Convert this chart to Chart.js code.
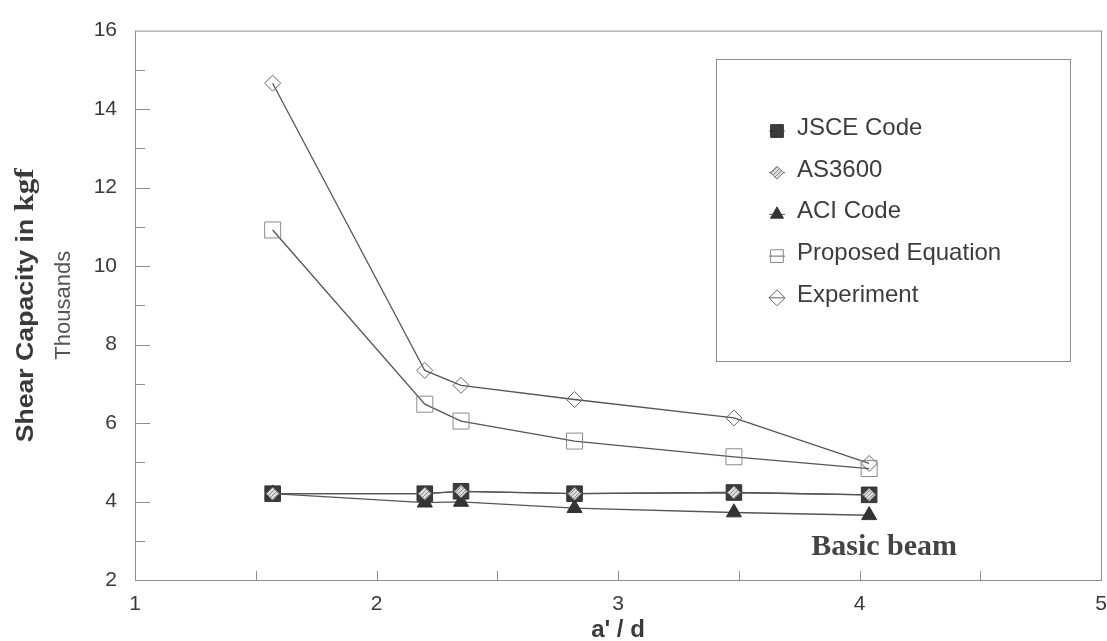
<!DOCTYPE html>
<html>
<head>
<meta charset="utf-8">
<title>Shear Capacity vs a'/d</title>
<script src="https://cdn.jsdelivr.net/npm/chart.js@4.4.1/dist/chart.umd.min.js"></script>
<style>
    html, body { margin: 0; padding: 0; background: #fff; }
    #wrap { position: relative; width: 1107px; height: 641px; }
</style>
</head>
<body>
<div id="wrap"><canvas id="shearChart" width="1107" height="641"></canvas></div>
<script>
// a'/d values of the tested beams
const ratioAD = [1.57, 2.2, 2.35, 2.82, 3.48, 4.04];

// Shear capacity, thousands of kgf
const jsceCode = [4.2, 4.2, 4.26, 4.2, 4.23, 4.17];
const as3600 = [4.2, 4.2, 4.26, 4.2, 4.23, 4.17];
const aciCode = [4.2, 3.97, 3.99, 3.83, 3.72, 3.65];
const proposedEq = [10.92, 6.48, 6.05, 5.54, 5.14, 4.84];
const experiment = [14.66, 7.34, 6.96, 6.6, 6.13, 4.97];

const seriesNames = ['JSCE Code', 'AS3600', 'ACI Code', 'Proposed Equation', 'Experiment'];

// axis ranges and tick labels
const xTicks = [1, 2, 3, 4, 5];
const yTicks = [2, 4, 6, 8, 10, 12, 14, 16];

(function() {
    'use strict';

    const SANS = '"Liberation Sans", Arial, sans-serif';
    const SERIF = '"Liberation Serif", "Times New Roman", serif';
    const frameColor = '#8e8e8e';
    const labelColor = '#3a3a3a';

    function points(values) {
        return ratioAD.map((x, i) => ({ x: x, y: values[i] }));
    }

    // hatched fill for the AS3600 diamond
    function hatchPattern() {
        const c = document.createElement('canvas');
        c.width = 4; c.height = 4;
        const g = c.getContext('2d');
        g.fillStyle = '#dcdcdc';
        g.fillRect(0, 0, 4, 4);
        g.strokeStyle = '#8c8c8c';
        g.lineWidth = 1;
        g.beginPath();
        g.moveTo(0, 4); g.lineTo(4, 0);
        g.stroke();
        return g.createPattern(c, 'repeat');
    }
    const hatch = hatchPattern();

    function marker(ctx, style, x, y, r, fill, stroke) {
        ctx.beginPath();
        if (style === 'rect') {
            const s = r * Math.SQRT1_2;
            ctx.rect(x - s, y - s, 2 * s, 2 * s);
        } else if (style === 'rectRot') {
            ctx.moveTo(x - r, y); ctx.lineTo(x, y - r);
            ctx.lineTo(x + r, y); ctx.lineTo(x, y + r);
            ctx.closePath();
        } else if (style === 'triangle') {
            for (let k = 0; k < 3; k++) {
                const a = k * 2 * Math.PI / 3;
                const px = x + Math.sin(a) * r, py = y - Math.cos(a) * r;
                if (k === 0) ctx.moveTo(px, py); else ctx.lineTo(px, py);
            }
            ctx.closePath();
        }
        if (fill) { ctx.fillStyle = fill; ctx.fill(); }
        if (stroke) { ctx.strokeStyle = stroke; ctx.lineWidth = 1; ctx.stroke(); }
    }

    // frame, inward ticks, titles, legend box and note
    const decorations = {
        id: 'decorations',
        beforeDatasetsDraw(chart) {
            const { ctx, chartArea: a, scales: { x, y } } = chart;
            ctx.save();
            ctx.strokeStyle = frameColor;
            ctx.lineWidth = 1;
            ctx.strokeRect(a.left + 0.5, a.top + 0.5, a.right - a.left, a.bottom - a.top);

            // y ticks every 1, longer at labelled values
            for (let v = y.min + 1; v < y.max; v++) {
                const py = Math.round(y.getPixelForValue(v)) + 0.5;
                const len = yTicks.includes(v) ? 15 : 10;
                ctx.beginPath();
                ctx.moveTo(a.left, py); ctx.lineTo(a.left + len, py);
                ctx.stroke();
            }
            // x ticks every 0.5
            for (let v = x.min + 0.5; v < x.max; v += 0.5) {
                const px = Math.round(x.getPixelForValue(v)) + 0.5;
                ctx.beginPath();
                ctx.moveTo(px, a.bottom); ctx.lineTo(px, a.bottom - 9);
                ctx.stroke();
            }

            // x tick labels
            ctx.fillStyle = labelColor;
            ctx.font = '21px ' + SANS;
            ctx.textAlign = 'center';
            ctx.textBaseline = 'middle';
            xTicks.forEach(v => {
                ctx.fillText(String(v), x.getPixelForValue(v), a.bottom + 24);
            });
            ctx.restore();
        },
        afterDraw(chart) {
            const { ctx, chartArea: a, scales: { x, y } } = chart;
            ctx.save();

            // y title: "Shear Capacity in kgf" + "Thousands"
            const midY = (a.top + a.bottom) / 2;
            const part1 = 'Shear Capacity in ', part2 = 'kgf';
            ctx.fillStyle = labelColor;
            ctx.textBaseline = 'alphabetic';
            ctx.font = 'bold 24px ' + SANS;
            const w1 = ctx.measureText(part1).width;
            ctx.font = 'bold 28px ' + SERIF;
            const w2 = ctx.measureText(part2).width;
            const stretch = 274 / (w1 + w2);
            ctx.save();
            ctx.translate(33, midY);
            ctx.rotate(-Math.PI / 2);
            ctx.scale(stretch, 1);
            ctx.textAlign = 'left';
            ctx.font = 'bold 24px ' + SANS;
            ctx.fillText(part1, -(w1 + w2) / 2, 0);
            ctx.font = 'bold 28px ' + SERIF;
            ctx.fillText(part2, -(w1 + w2) / 2 + w1, 0);
            ctx.restore();

            ctx.save();
            ctx.translate(70, midY);
            ctx.rotate(-Math.PI / 2);
            ctx.fillStyle = '#555';
            ctx.font = '22px ' + SANS;
            ctx.textAlign = 'center';
            ctx.fillText('Thousands', 0, 0);
            ctx.restore();

            // x title
            ctx.fillStyle = labelColor;
            ctx.font = 'bold 24px ' + SANS;
            ctx.textAlign = 'center';
            ctx.fillText("a' / d", (a.left + a.right) / 2, 637);

            // note inside the plot
            ctx.font = 'bold 30px ' + SERIF;
            ctx.textAlign = 'left';
            ctx.fillStyle = '#444';
            ctx.fillText('Basic beam', x.getPixelForValue(3.8), y.getPixelForValue(2.64));

            // legend box
            ctx.strokeStyle = frameColor;
            ctx.lineWidth = 1;
            ctx.strokeRect(716.5, 59.5, 354, 302);
            const baseY = 135, step = 41.7, mx = 777;
            chart.data.datasets.forEach((ds, i) => {
                const by = baseY + i * step;
                const cy = by - 4;
                ctx.strokeStyle = '#666';
                ctx.beginPath();
                ctx.moveTo(mx - 8, cy); ctx.lineTo(mx + 8, cy);
                ctx.stroke();
                const fill = ds.pointBackgroundColor === 'rgba(0,0,0,0)' ? null : ds.pointBackgroundColor;
                marker(ctx, ds.pointStyle, mx, cy, ds.legendRadius, fill, ds.pointBorderColor);
                ctx.fillStyle = '#3c3c3c';
                ctx.font = '24px ' + SANS;
                ctx.textAlign = 'left';
                ctx.fillText(ds.label, 797, by);
            });
            ctx.restore();
        }
    };

    const lineColor = '#555';

    new Chart(document.getElementById('shearChart'), {
        type: 'scatter',
        data: {
            datasets: [{
                label: seriesNames[0],
                data: points(jsceCode),
                showLine: true,
                borderColor: lineColor,
                borderWidth: 1.3,
                pointStyle: 'rect',
                pointRadius: 11,
                pointBackgroundColor: '#3b3b3b',
                pointBorderColor: '#333',
                pointBorderWidth: 1,
                legendRadius: 9,
                order: 2
            }, {
                label: seriesNames[1],
                data: points(as3600),
                showLine: true,
                borderColor: lineColor,
                borderWidth: 1.3,
                pointStyle: 'rectRot',
                pointRadius: 6.5,
                pointBackgroundColor: hatch,
                pointBorderColor: '#7a7a7a',
                pointBorderWidth: 1,
                legendRadius: 6.5,
                order: 0
            }, {
                label: seriesNames[2],
                data: points(aciCode),
                showLine: true,
                borderColor: lineColor,
                borderWidth: 1.3,
                pointStyle: 'triangle',
                pointRadius: 8.7,
                pointBackgroundColor: '#333',
                pointBorderColor: '#333',
                pointBorderWidth: 1,
                legendRadius: 7.5,
                order: 1
            }, {
                label: seriesNames[3],
                data: points(proposedEq),
                showLine: true,
                borderColor: lineColor,
                borderWidth: 1.3,
                pointStyle: 'rect',
                pointRadius: 11.3,
                pointBackgroundColor: 'rgba(0,0,0,0)',
                pointBorderColor: '#8a8a8a',
                pointBorderWidth: 1,
                legendRadius: 9,
                order: 3
            }, {
                label: seriesNames[4],
                data: points(experiment),
                showLine: true,
                borderColor: lineColor,
                borderWidth: 1.3,
                pointStyle: 'rectRot',
                pointRadius: 8,
                pointBackgroundColor: 'rgba(0,0,0,0)',
                pointBorderColor: '#666',
                pointBorderWidth: 1,
                legendRadius: 8,
                order: 4
            }]
        },
        options: {
            responsive: false,
            animation: false,
            events: [],
            devicePixelRatio: 1,
            layout: { autoPadding: false, padding: { top: 26, right: 6, left: 0, bottom: 0 } },
            plugins: {
                legend: { display: false },
                tooltip: { enabled: false }
            },
            scales: {
                x: {
                    type: 'linear',
                    min: xTicks[0],
                    max: xTicks[xTicks.length - 1],
                    afterFit(scale) { scale.height = 61; },
                    afterBuildTicks(scale) { scale.ticks = xTicks.map(v => ({ value: v })); },
                    border: { display: false },
                    grid: { display: false },
                    ticks: { display: false }
                },
                y: {
                    type: 'linear',
                    min: yTicks[0],
                    max: yTicks[yTicks.length - 1],
                    afterFit(scale) { scale.width = 135; },
                    afterBuildTicks(scale) { scale.ticks = yTicks.map(v => ({ value: v })); },
                    border: { display: false },
                    grid: { display: true, drawOnChartArea: false, drawTicks: false },
                    ticks: {
                        padding: 18,
                        color: labelColor,
                        font: { family: SANS, size: 21 }
                    }
                }
            }
        },
        plugins: [decorations]
    });
})();
</script>
</body>
</html>
